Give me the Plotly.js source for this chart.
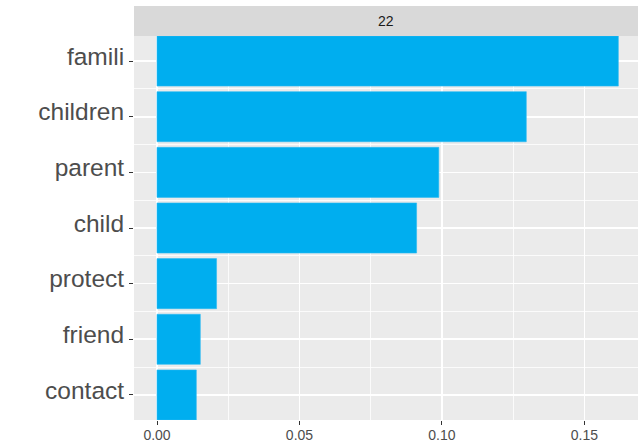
<!DOCTYPE html>
<html>
<head>
<meta charset="utf-8">
<script src="https://cdn.plot.ly/plotly-3.0.1.min.js"></script>
<style>html,body{margin:0;padding:0;background:#fff;}#chart{width:638px;height:443px;}</style>
</head>
<body>
<div id="chart"></div>
<script>
var terms = ["famili", "children", "parent", "child", "protect", "friend", "contact"];
var beta = [0.1619, 0.1296, 0.0989, 0.0911, 0.0209, 0.0152, 0.0138];
var facetLabel = "22";
var xTickVals = [0, 0.05, 0.10, 0.15];
var xTickText = ["0.00", "0.05", "0.10", "0.15"];

var n = terms.length;
var yIdx = terms.map(function(t, i){ return n - 1 - i; });

var trace = {
  type: "bar",
  orientation: "h",
  x: beta,
  y: yIdx,
  width: 0.9,
  marker: {color: "#00AEEF", line: {color: "#2DBBF2", width: 0.6}},
  hoverinfo: "x+text",
  text: terms,
  textposition: "none"
};

var layout = {
  width: 638, height: 443,
  margin: {l: 134, r: 0, t: 36, b: 23, pad: 0},
  paper_bgcolor: "#ffffff",
  plot_bgcolor: "#EBEBEB",
  showlegend: false,
  font: {family: "Liberation Sans, Arial, sans-serif", color: "#4D4D4D"},
  xaxis: {
    range: [-0.00807, 0.1688],
    tickvals: xTickVals,
    ticktext: xTickText,
    ticks: "outside", ticklen: 4, tickwidth: 1, tickcolor: "#333333",
    tickfont: {size: 14, color: "#4D4D4D"},
    ticklabelstandoff: -2,
    showgrid: true, gridcolor: "#FFFFFF", gridwidth: 1.6,
    minor: {tickvals: [0.025, 0.075, 0.125], showgrid: true, gridcolor: "#FFFFFF", gridwidth: 0.8, ticks: ""},
    zeroline: false, showline: false, fixedrange: true
  },
  yaxis: {
    range: [-0.45, 6.45],
    tickvals: yIdx,
    ticktext: terms,
    ticks: "outside", ticklen: 4, tickwidth: 1, tickcolor: "#333333",
    tickfont: {size: 24.5, color: "#4D4D4D"},
    ticklabelshift: -5,
    showgrid: true, gridcolor: "#FFFFFF", gridwidth: 1.6,
    minor: {tickvals: [0.5, 1.5, 2.5, 3.5, 4.5, 5.5], showgrid: true, gridcolor: "#FFFFFF", gridwidth: 0.8, ticks: ""},
    zeroline: false, showline: false, fixedrange: true
  },
  shapes: [{
    type: "rect", xref: "paper", yref: "paper",
    x0: 0, x1: 1, y0: 1, y1: 1 + 30/384,
    fillcolor: "#D9D9D9", line: {width: 0}, layer: "below"
  }],
  annotations: [{
    xref: "paper", yref: "paper", x: 0.5, y: 1 + 15/384,
    text: facetLabel, showarrow: false,
    xanchor: "center", yanchor: "middle",
    font: {size: 14, color: "#1A1A1A"}
  }]
};

Plotly.newPlot("chart", [trace], layout, {displayModeBar: false, staticPlot: true});
</script>
</body>
</html>
